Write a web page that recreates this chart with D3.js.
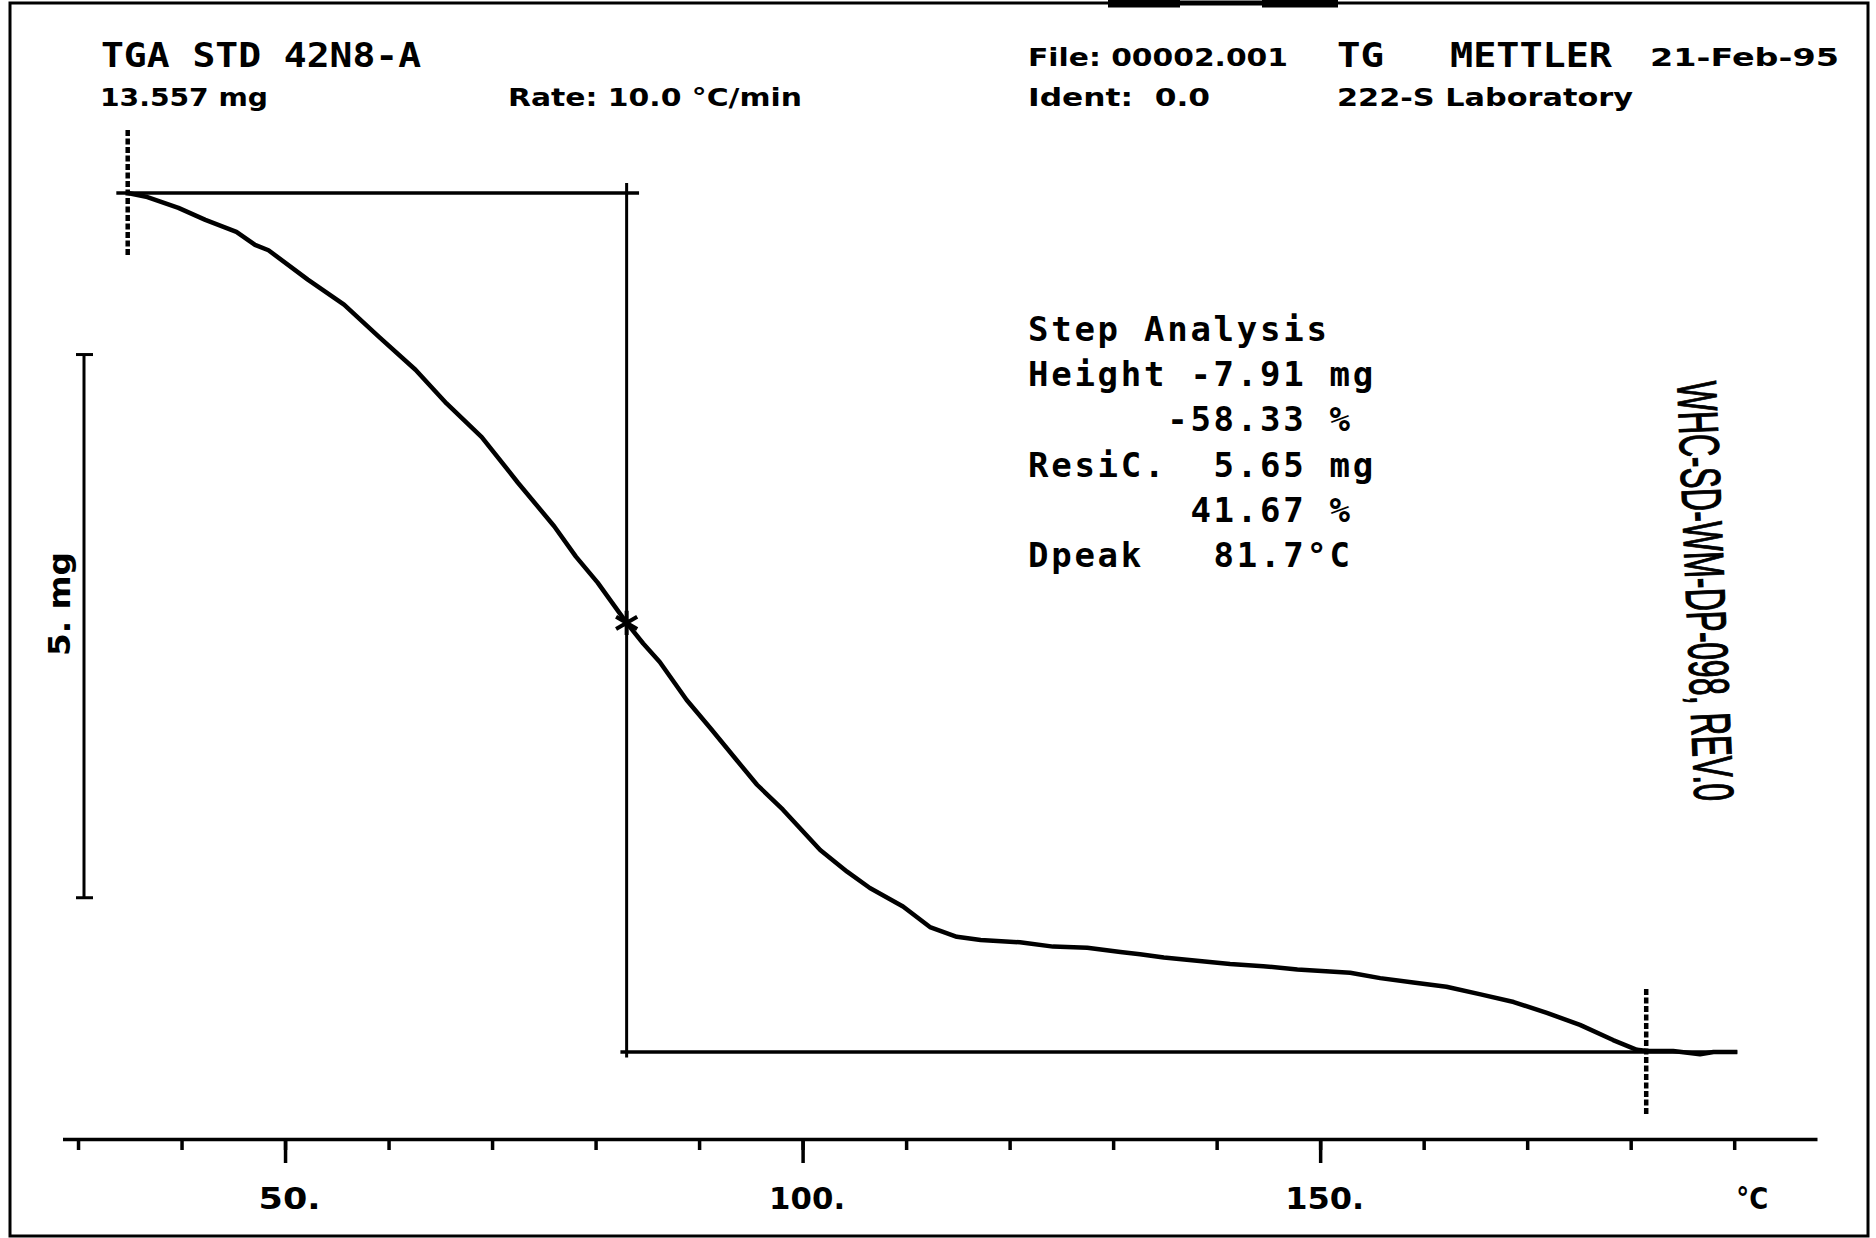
<!DOCTYPE html>
<html>
<head>
<meta charset="utf-8">
<script src="https://cdn.jsdelivr.net/npm/d3@7"></script>
<style>
  html, body { margin: 0; padding: 0; background: #fff; }
  svg { display: block; }
</style>
</head>
<body>
<svg id="chart"></svg>
<script>
// TG curve: temperature (°C) vs sample mass (mg)
const temps = [34.8, 36.7, 39.7, 42.3, 45.3, 47.1, 48.4, 52.2, 55.7, 59.1, 62.6, 65.6, 69.0, 72.5, 76.0, 78.1, 80.2, 83.0,
  84.6, 86.2, 88.8, 91.1, 93.6, 95.6, 98.1, 101.7, 104.3, 106.5, 109.7, 112.3, 114.9, 117.2, 121.0, 124.2, 127.5, 130.7,
  132.6, 134.9, 138.1, 141.3, 144.5, 147.8, 152.9, 155.8, 159.0, 162.2, 165.5, 168.7, 171.9, 175.1, 178.3, 180.6, 181.6,
  184.1, 186.7, 188.0, 190.3];
const mass = [13.557, 13.52, 13.42, 13.31, 13.20, 13.08, 13.03, 12.76, 12.53, 12.23, 11.93, 11.62, 11.31, 10.89, 10.49, 10.21, 9.97, 9.60,
  9.41, 9.24, 8.89, 8.63, 8.34, 8.11, 7.88, 7.51, 7.31, 7.16, 6.99, 6.80, 6.71, 6.68, 6.66, 6.62, 6.61, 6.57,
  6.55, 6.52, 6.49, 6.46, 6.44, 6.41, 6.38, 6.33, 6.29, 6.25, 6.18, 6.11, 6.01, 5.90, 5.76, 5.67, 5.66,
  5.66, 5.63, 5.65, 5.65];

// step evaluation
const stepLevels = [13.557, 5.65];        // start / residue mass, mg
const stepOnsets = [34.8, 181.5];         // limits of the evaluation, °C
const dpeak = [83.0, 9.60];               // marked point (°C, mg)
const scaleBar = [12.07, 5];              // top of the "5. mg" bar and its length, mg

// axis
const minorTicks = d3.range(30, 191, 10);
const majorTicks = [50, 100, 150];
const majorLabels = ["50.", "100.", "150."];
const unitTick = 190, unitLabel = "°C";

// texts
const stepText = ["Step Analysis", "Height -7.91 mg", "      -58.33 %", "ResiC.  5.65 mg", "       41.67 %", "Dpeak   81.7°C"];
const docId = "WHC-SD-WM-DP-098, REV.0";

const W = 1876, H = 1238;
const svg = d3.select("#chart").attr("width", W).attr("height", H);

const x = d3.scaleLinear().domain([28.5, 198]).range([62.5, 1817]);
const y = d3.scaleLinear().domain([stepLevels[1], stepLevels[0]]).range([1052, 193]);

// frame
svg.append("rect").attr("x", 10).attr("y", 3).attr("width", 1858).attr("height", 1233)
  .attr("fill", "none").attr("stroke", "#000").attr("stroke-width", 3);
svg.append("path").attr("d", "M1108,3H1180M1262,3H1338")
  .attr("stroke", "#000").attr("stroke-width", 9);
svg.append("path").attr("d", "M1180,3H1262")
  .attr("stroke", "#000").attr("stroke-width", 5);

// header
const mono = "'DejaVu Sans Mono', monospace";
const sans = "'DejaVu Sans', sans-serif";
function label(txt, x0, base, len, size, family) {
  return svg.append("text").attr("x", x0).attr("y", base)
    .attr("font-family", family).attr("font-weight", "bold").attr("font-size", size)
    .attr("textLength", len).attr("lengthAdjust", "spacingAndGlyphs")
    .text(txt.replace(/ /g, "\u00a0"));
}
label("TGA STD 42N8-A", 101, 67, 320, 33, mono);
label("TG", 1337, 67, 47, 33, mono);
label("METTLER", 1450, 67, 162, 33, mono);
label("13.557 mg", 100, 106, 168, 25, sans);
label("Rate: 10.0 °C/min", 508, 106, 294, 25, sans);
label("File: 00002.001", 1028, 66, 260, 25, sans);
label("21-Feb-95", 1650, 66, 189, 25, sans);
label("Ident:  0.0", 1028, 106, 182, 25, sans);
label("222-S Laboratory", 1337, 106, 296, 25, sans);

// step analysis block (fixed pitch)
svg.append("g").selectAll("text").data(stepText).join("text")
  .attr("x", 1028).attr("y", (d, i) => 341 + i * 45.2)
  .attr("font-family", mono).attr("font-weight", "bold").attr("font-size", 34)
  .attr("letter-spacing", 23.2 - 0.602 * 34)
  .text(d => d.replace(/ /g, "\u00a0"));

// document id, written sideways
svg.append("text")
  .attr("transform", "translate(1686,592) rotate(87.6)")
  .attr("text-anchor", "middle")
  .attr("font-family", "'Liberation Sans', Arial, sans-serif")
  .attr("font-size", 56).attr("textLength", 420).attr("lengthAdjust", "spacingAndGlyphs")
  .attr("stroke", "#000").attr("stroke-width", 1.2)
  .text(docId);

// construction lines
const g = svg.append("g").attr("stroke", "#000").attr("fill", "none");
g.append("line").attr("x1", x(33.7)).attr("x2", x(84.2)).attr("y1", y(stepLevels[0])).attr("y2", y(stepLevels[0]))
  .attr("stroke-width", 3.5);
g.append("line").attr("x1", x(82.4)).attr("x2", x(190.3)).attr("y1", y(stepLevels[1])).attr("y2", y(stepLevels[1]))
  .attr("stroke-width", 3.5);
g.append("line").attr("x1", x(dpeak[0])).attr("x2", x(dpeak[0])).attr("y1", y(13.65)).attr("y2", y(5.60))
  .attr("stroke-width", 3);
g.selectAll("line.onset").data(stepOnsets).join("line").attr("class", "onset")
  .attr("x1", d => x(d)).attr("x2", d => x(d))
  .attr("y1", (d, i) => y(stepLevels[i]) - 63).attr("y2", (d, i) => y(stepLevels[i]) + 63)
  .attr("stroke-width", 4.5).attr("stroke-dasharray", "6,2.5");

// scale bar
const sb = svg.append("g").attr("stroke", "#000").attr("stroke-width", 3);
sb.append("line").attr("x1", 84).attr("x2", 84).attr("y1", y(scaleBar[0])).attr("y2", y(scaleBar[0] - scaleBar[1]));
[scaleBar[0], scaleBar[0] - scaleBar[1]].forEach(v =>
  sb.append("line").attr("x1", 76).attr("x2", 93).attr("y1", y(v)).attr("y2", y(v)));
svg.append("text").attr("transform", "translate(70,604) rotate(-90)")
  .attr("text-anchor", "middle").attr("font-family", sans).attr("font-weight", "bold").attr("font-size", 30)
  .attr("textLength", 104).attr("lengthAdjust", "spacingAndGlyphs").text("5.\u00a0mg");

// TG curve
const line = d3.line().x(d => x(d[0])).y(d => y(d[1]));
svg.append("path").datum(temps.map((t, i) => [t, mass[i]]))
  .attr("d", line).attr("fill", "none").attr("stroke", "#000").attr("stroke-width", 4.5)
  .attr("stroke-linejoin", "round");

// inflection marker
const star = d3.symbol().type(d3.symbolAsterisk || d3.symbolCross).size(420);
svg.append("path").attr("d", star()).attr("transform", `translate(${x(dpeak[0])},${y(dpeak[1])})`)
  .attr("fill", "none").attr("stroke", "#000").attr("stroke-width", 4);

// temperature axis
const axisY = 1139;
const ax = svg.append("g").attr("transform", `translate(0,${axisY})`);
ax.call(d3.axisBottom(x).tickValues(minorTicks).tickSize(11).tickSizeOuter(0).tickFormat(""));
ax.select(".domain").attr("stroke-width", 3.5);
ax.selectAll(".tick line").attr("stroke-width", 3.5);

const axMajor = svg.append("g").attr("transform", `translate(0,${axisY})`);
axMajor.call(d3.axisBottom(x).tickValues(majorTicks).tickSize(24).tickFormat((d, i) => majorLabels[i]));
axMajor.select(".domain").remove();
axMajor.selectAll(".tick line").attr("stroke-width", 3.5);
axMajor.selectAll(".tick text")
  .attr("y", 70).attr("dy", 0).attr("x", 4).attr("fill", "#000")
  .attr("font-family", sans).attr("font-weight", "bold").attr("font-size", 30)
  .attr("textLength", (d, i) => [62, 76, 79][i]).attr("lengthAdjust", "spacingAndGlyphs");

svg.append("text").attr("x", x(unitTick) + 2).attr("y", axisY + 70)
  .attr("font-family", sans).attr("font-weight", "bold").attr("font-size", 31)
  .attr("textLength", 32).attr("lengthAdjust", "spacingAndGlyphs")
  .text(unitLabel);
</script>
</body>
</html>
